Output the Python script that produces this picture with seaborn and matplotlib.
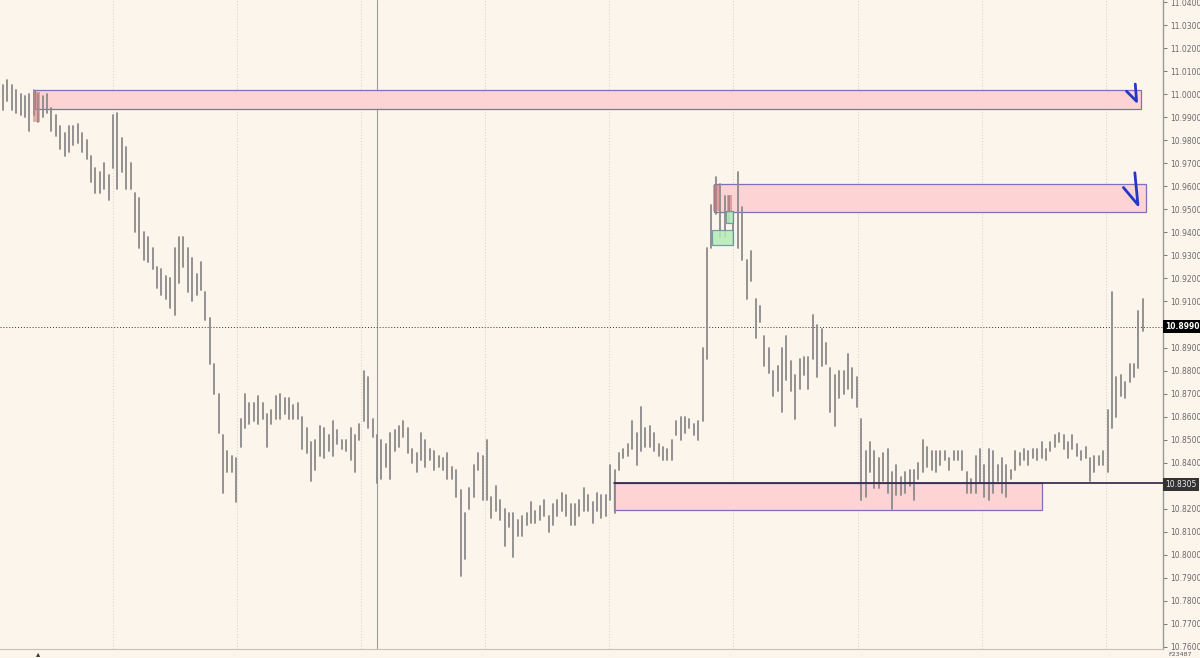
import numpy as np
import pandas as pd
import seaborn as sns
import matplotlib.pyplot as plt
import matplotlib.transforms as mtransforms
from matplotlib.patches import Rectangle

# -------------------------------
# Price bars (high / low)
# -------------------------------
highs = [
    11.004, 11.006, 11.004, 11.002, 11.000, 10.999, 11.000, 11.002, 11.000, 10.999,
    11.000, 10.994, 10.991, 10.986, 10.983, 10.986, 10.986, 10.987, 10.983, 10.980,
    10.973, 10.968, 10.966, 10.970, 10.965, 10.991, 10.992, 10.981, 10.977, 10.970,
    10.957, 10.955, 10.940, 10.938, 10.933, 10.925, 10.924, 10.921, 10.920, 10.933,
    10.938, 10.938, 10.933, 10.929, 10.922, 10.927, 10.914, 10.903, 10.883, 10.870,
    10.852, 10.845, 10.843, 10.842, 10.859, 10.870, 10.866, 10.866, 10.869, 10.866,
    10.861, 10.863, 10.869, 10.870, 10.868, 10.868, 10.865, 10.866, 10.860, 10.855,
    10.849, 10.850, 10.856, 10.855, 10.852, 10.858, 10.854, 10.850, 10.850, 10.855,
    10.852, 10.857, 10.880, 10.877, 10.859, 10.852, 10.850, 10.848, 10.853, 10.854,
    10.856, 10.858, 10.855, 10.846, 10.844, 10.853, 10.850, 10.846, 10.845, 10.843,
    10.842, 10.844, 10.838, 10.837, 10.828, 10.818, 10.829, 10.839, 10.844, 10.843,
    10.850, 10.825, 10.830, 10.824, 10.820, 10.818, 10.818, 10.815, 10.817, 10.818,
    10.823, 10.819, 10.821, 10.824, 10.817, 10.822, 10.824, 10.827, 10.826, 10.822,
    10.822, 10.824, 10.829, 10.826, 10.823, 10.827, 10.826, 10.826, 10.839, 10.837,
    10.844, 10.846, 10.848, 10.858, 10.853, 10.864, 10.855, 10.856, 10.853, 10.848,
    10.847, 10.846, 10.850, 10.858, 10.860, 10.860, 10.859, 10.857, 10.858, 10.890,
    10.933, 10.952, 10.964, 10.961, 10.956, 10.956, 10.949, 10.966, 10.951, 10.928,
    10.932, 10.911, 10.908, 10.895, 10.890, 10.880, 10.882, 10.890, 10.895, 10.884,
    10.878, 10.885, 10.886, 10.886, 10.904, 10.900, 10.898, 10.892, 10.881, 10.878,
    10.880, 10.880, 10.887, 10.881, 10.877, 10.859, 10.845, 10.849, 10.845, 10.842,
    10.844, 10.846, 10.836, 10.839, 10.834, 10.836, 10.837, 10.837, 10.840, 10.850,
    10.847, 10.845, 10.845, 10.845, 10.845, 10.842, 10.845, 10.845, 10.845, 10.836,
    10.833, 10.843, 10.846, 10.839, 10.846, 10.845, 10.839, 10.842, 10.839, 10.837,
    10.845, 10.844, 10.846, 10.845, 10.846, 10.846, 10.849, 10.846, 10.849, 10.852,
    10.853, 10.852, 10.849, 10.852, 10.848, 10.845, 10.847, 10.842, 10.843, 10.843,
    10.845, 10.863, 10.914, 10.877, 10.878, 10.875, 10.883, 10.883, 10.906, 10.911,
]
lows = [
    10.993, 10.997, 10.993, 10.992, 10.991, 10.990, 10.984, 10.991, 10.988, 10.990,
    10.992, 10.984, 10.982, 10.976, 10.973, 10.975, 10.978, 10.979, 10.975, 10.972,
    10.962, 10.957, 10.957, 10.959, 10.954, 10.968, 10.959, 10.966, 10.959, 10.959,
    10.940, 10.933, 10.928, 10.927, 10.924, 10.916, 10.913, 10.911, 10.907, 10.904,
    10.918, 10.925, 10.914, 10.910, 10.913, 10.915, 10.902, 10.883, 10.870, 10.853,
    10.827, 10.836, 10.836, 10.823, 10.847, 10.855, 10.857, 10.858, 10.857, 10.859,
    10.847, 10.857, 10.859, 10.859, 10.861, 10.859, 10.859, 10.859, 10.846, 10.844,
    10.832, 10.837, 10.843, 10.842, 10.845, 10.843, 10.848, 10.846, 10.845, 10.841,
    10.836, 10.850, 10.858, 10.855, 10.851, 10.831, 10.833, 10.838, 10.833, 10.845,
    10.847, 10.851, 10.844, 10.840, 10.836, 10.841, 10.838, 10.841, 10.837, 10.838,
    10.837, 10.833, 10.833, 10.825, 10.791, 10.798, 10.820, 10.825, 10.837, 10.824,
    10.824, 10.816, 10.819, 10.815, 10.804, 10.812, 10.799, 10.808, 10.808, 10.813,
    10.814, 10.814, 10.815, 10.817, 10.810, 10.813, 10.817, 10.819, 10.817, 10.813,
    10.813, 10.817, 10.819, 10.819, 10.814, 10.819, 10.816, 10.817, 10.824, 10.818,
    10.837, 10.842, 10.843, 10.846, 10.839, 10.845, 10.847, 10.847, 10.845, 10.843,
    10.841, 10.841, 10.841, 10.852, 10.850, 10.853, 10.855, 10.852, 10.850, 10.858,
    10.885, 10.933, 10.948, 10.938, 10.938, 10.944, 10.935, 10.933, 10.928, 10.911,
    10.919, 10.894, 10.901, 10.882, 10.879, 10.869, 10.871, 10.862, 10.876, 10.871,
    10.859, 10.872, 10.878, 10.872, 10.885, 10.877, 10.882, 10.883, 10.862, 10.856,
    10.868, 10.870, 10.872, 10.868, 10.864, 10.824, 10.825, 10.836, 10.829, 10.829,
    10.832, 10.827, 10.820, 10.826, 10.826, 10.827, 10.830, 10.824, 10.833, 10.836,
    10.838, 10.837, 10.836, 10.839, 10.841, 10.837, 10.841, 10.841, 10.837, 10.827,
    10.827, 10.827, 10.831, 10.825, 10.824, 10.827, 10.832, 10.827, 10.825, 10.833,
    10.837, 10.839, 10.841, 10.839, 10.842, 10.841, 10.842, 10.841, 10.845, 10.847,
    10.849, 10.846, 10.842, 10.846, 10.843, 10.841, 10.842, 10.832, 10.836, 10.839,
    10.839, 10.836, 10.855, 10.860, 10.869, 10.868, 10.875, 10.877, 10.881, 10.897,
]

# zones: (first bar, last bar, low price, high price)
supply_zones = [(7.3, 258.6, 10.9935, 11.0017),
                (161.6, 259.8, 10.9490, 10.9612)]
demand_zone = (138.9, 236.1, 10.8194, 10.8312)
green_boxes = [(161.1, 165.9, 10.9346, 10.9411),
               (164.3, 165.9, 10.9442, 10.9494)]
red_marks = [(6.9, 8.3, 10.9878, 11.0009),
             (161.3, 163.0, 10.9494, 10.9607),
             (164.5, 165.6, 10.9494, 10.9563)]
# hand-drawn arrows: (x, price) strokes
arrows = [
    [(257.3, 11.0044), (257.6, 10.9969), (255.3, 11.0013)],
    [(257.2, 10.9659), (257.9, 10.9520), (254.6, 10.9595)],
]
time_grid = np.arange(25.0, 262, 28.2)
session_line = 85.0
last_price = 10.8990
level_price = 10.8305

bg = '#fcf5ec'
sns.set_theme(style='white', rc={'axes.facecolor': bg, 'figure.facecolor': bg})
plt.rcParams['font.family'] = ['DejaVu Sans']

df = pd.DataFrame({
    'bar': np.repeat(np.arange(len(highs)), 2),
    'price': np.column_stack([lows, highs]).ravel(),
})

fig = plt.figure(figsize=(12, 6.58), dpi=100)
ax = fig.add_axes([0, 9 / 658, 1163 / 1200, 649 / 658])

# grid
for gx in time_grid:
    ax.axvline(gx, color='#d6ccc2', lw=0.7, ls=(0, (1, 2)), zorder=0)
ax.axvline(session_line, color='#9c9c9c', lw=0.8, zorder=0)
ax.axhline(last_price, color='#333333', lw=0.7, ls=(0, (1, 2)), zorder=1)

# zones
for x0, x1, lo, hi in supply_zones:
    ax.add_patch(Rectangle((x0, lo), x1 - x0, hi - lo, fc='#fdd3d3', ec='#7b72b8',
                           lw=0.9, zorder=1))
x0, x1, lo, hi = demand_zone
ax.add_patch(Rectangle((x0, lo), x1 - x0, hi - lo, fc='#fdd3d3', ec='#7b72b8',
                       lw=0.9, zorder=1))
ax.plot([x0, 264], [hi, hi], color='#2a2145', lw=1.2, zorder=4)

sns.lineplot(data=df, x='bar', y='price', units='bar', estimator=None, sort=False,
             color='#8a8a8a', lw=1.3, ax=ax, zorder=3)

for x0, x1, lo, hi in green_boxes:
    ax.add_patch(Rectangle((x0, lo), x1 - x0, hi - lo, fc='#b6ecb9', ec='#5f8f9a',
                           lw=0.9, alpha=0.85, zorder=4))
for x0, x1, lo, hi in red_marks:
    ax.add_patch(Rectangle((x0, lo), x1 - x0, hi - lo, fc='#c77f7f', ec='none',
                           alpha=0.6, zorder=4))
for stroke in arrows:
    xs, ys = zip(*stroke)
    ax.plot(xs, ys, color='#2438c4', lw=2.0, solid_capstyle='round', zorder=5)

ax.set_xlim(-0.68, 263.6)
ax.set_ylim(10.7591, 11.0409)
ax.set_xlabel('')
ax.set_ylabel('')
ax.set_xticks([])
ax.yaxis.tick_right()
ax.set_yticks(np.arange(10.76, 11.0405, 0.01))


def price_label(v, pos):
    # the boxed price tags sit on top of these two levels
    if abs(v - last_price) < 0.004 or abs(v - level_price) < 0.004:
        return ''
    return f'{v:.4f}'


ax.yaxis.set_major_formatter(plt.FuncFormatter(price_label))
ax.tick_params(axis='y', direction='out', length=3, width=0.7, color='#777777',
               labelsize=5.5, labelcolor='#6a6a6a', pad=2)
for side in ['top', 'left']:
    ax.spines[side].set_visible(False)
ax.spines['right'].set_color('#9a9a9a')
ax.spines['right'].set_linewidth(1.0)
ax.spines['bottom'].set_color('#c9c1b8')
ax.spines['bottom'].set_linewidth(0.8)

trans = mtransforms.blended_transform_factory(ax.transAxes, ax.transData)
ax.text(1.002, last_price, f'{last_price:.4f}', transform=trans, va='center',
        ha='left', fontsize=5.5, color='white', fontweight='bold', zorder=6,
        bbox=dict(boxstyle='square,pad=0.25', fc='black', ec='none'))
ax.text(1.002, level_price, f'{level_price:.4f}', transform=trans, va='center',
        ha='left', fontsize=5.5, color='#eeeeee', zorder=6,
        bbox=dict(boxstyle='square,pad=0.25', fc='#333333', ec='none'))

fig.text(1168 / 1200, 1 / 658, 'F23487', fontsize=4.5, color='#555555', va='bottom')
fig.text(38 / 1200, 0, '\u25b4', fontsize=6, color='#333333', va='bottom', ha='center')

fig.savefig('out.png', dpi=100)
